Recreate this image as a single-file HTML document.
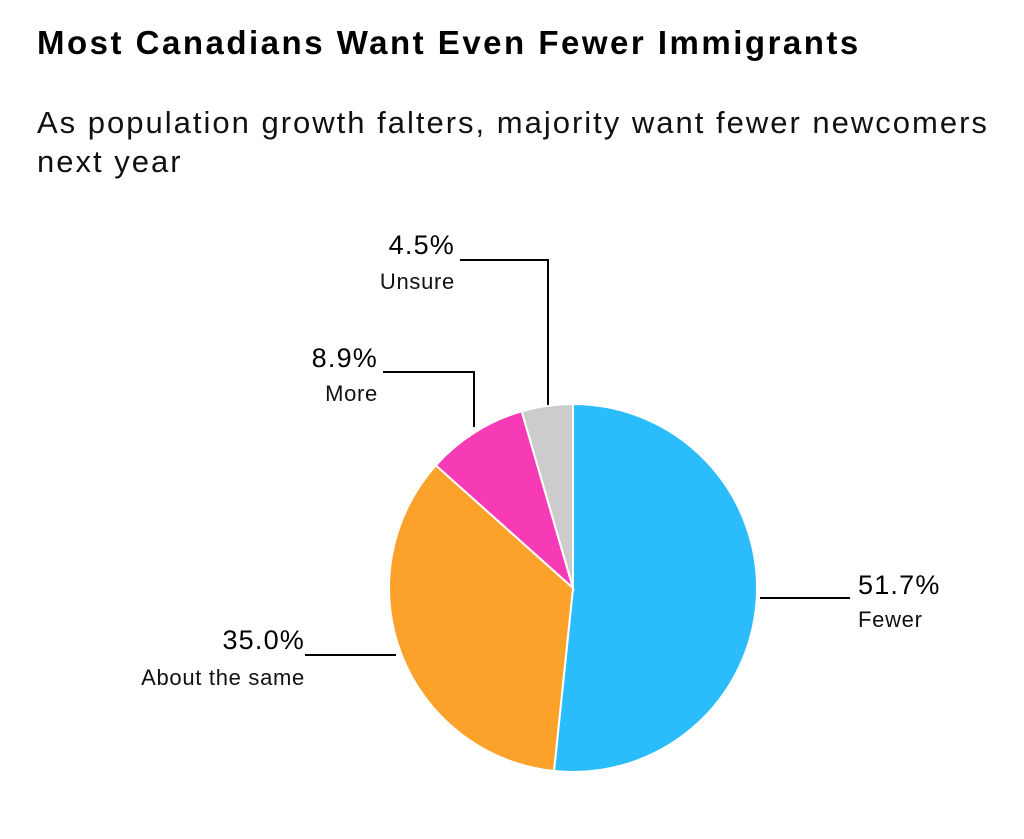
<!DOCTYPE html>
<html><head><meta charset="utf-8">
<style>
body{margin:0;background:#fff;width:1024px;height:839px;overflow:hidden;font-family:"Liberation Sans",Arial,sans-serif;}
#title{position:absolute;left:37px;top:24px;font-size:33px;font-weight:bold;color:#000;letter-spacing:2.5px;white-space:nowrap}
#sub{position:absolute;left:37px;top:103px;font-size:31px;line-height:39px;color:#111;width:975px;letter-spacing:2.0px}
svg{position:absolute;left:0;top:0}
</style></head><body>
<div id="title">Most Canadians Want Even Fewer Immigrants</div>
<div id="sub">As population growth falters, majority want fewer newcomers next year</div>
<svg id="chart" width="1024" height="839"></svg>
<script>
const categories=["Fewer","About the same","More","Unsure"];
const values=[51.7,35.0,8.9,4.5];
const labels=["51.7%","35.0%","8.9%","4.5%"];
const colors=["#2bbcfb","#fca12a","#f73ab6","#cccccc"];
const NS="http://www.w3.org/2000/svg";
const svg=document.getElementById('chart');
const cx=573,cy=588,r=184;
const total=values.reduce((a,b)=>a+b,0);
function pt(a,rr){return [cx+rr*Math.sin(a),cy-rr*Math.cos(a)];}
let a0=0;
values.forEach((v,i)=>{
  const a1=a0+v/total*2*Math.PI;
  const p0=pt(a0,r),p1=pt(a1,r);
  const large=(a1-a0)>Math.PI?1:0;
  const p=document.createElementNS(NS,'path');
  p.setAttribute('d',`M${cx},${cy}L${p0[0]},${p0[1]}A${r},${r} 0 ${large} 1 ${p1[0]},${p1[1]}Z`);
  p.setAttribute('fill',colors[i]);p.setAttribute('stroke','#fff');p.setAttribute('stroke-width','2');
  
  
  svg.appendChild(p);
  a0=a1;
});
const lay=[
 {line:"M760,598H850",tx:858,ty:594,anchor:"start",cy2:627},
 {line:"M305,655H396",tx:305,ty:649,anchor:"end",cy2:685},
 {line:"M383,372H474V427",tx:378,ty:367,anchor:"end",cy2:401},
 {line:"M460,260H548V405",tx:455,ty:254,anchor:"end",cy2:289}
];
lay.forEach((l,i)=>{
  const ln=document.createElementNS(NS,'path');
  ln.setAttribute('d',l.line);ln.setAttribute('stroke','#000');ln.setAttribute('stroke-width','2');ln.setAttribute('fill','none');
  
  
  svg.appendChild(ln);
  const t=document.createElementNS(NS,'text');
  t.setAttribute('x',l.tx);t.setAttribute('y',l.ty);t.setAttribute('text-anchor',l.anchor);
  t.setAttribute('font-size','27');t.setAttribute('letter-spacing','1.2');t.setAttribute('fill','#000');t.textContent=labels[i];
  
  
  svg.appendChild(t);
  const c=document.createElementNS(NS,'text');
  c.setAttribute('x',l.tx);c.setAttribute('y',l.cy2);c.setAttribute('text-anchor',l.anchor);
  c.setAttribute('font-size','22');c.setAttribute('letter-spacing','0.7');c.setAttribute('fill','#111');c.textContent=categories[i];
  
  
  svg.appendChild(c);
});
</script>
</body></html>
